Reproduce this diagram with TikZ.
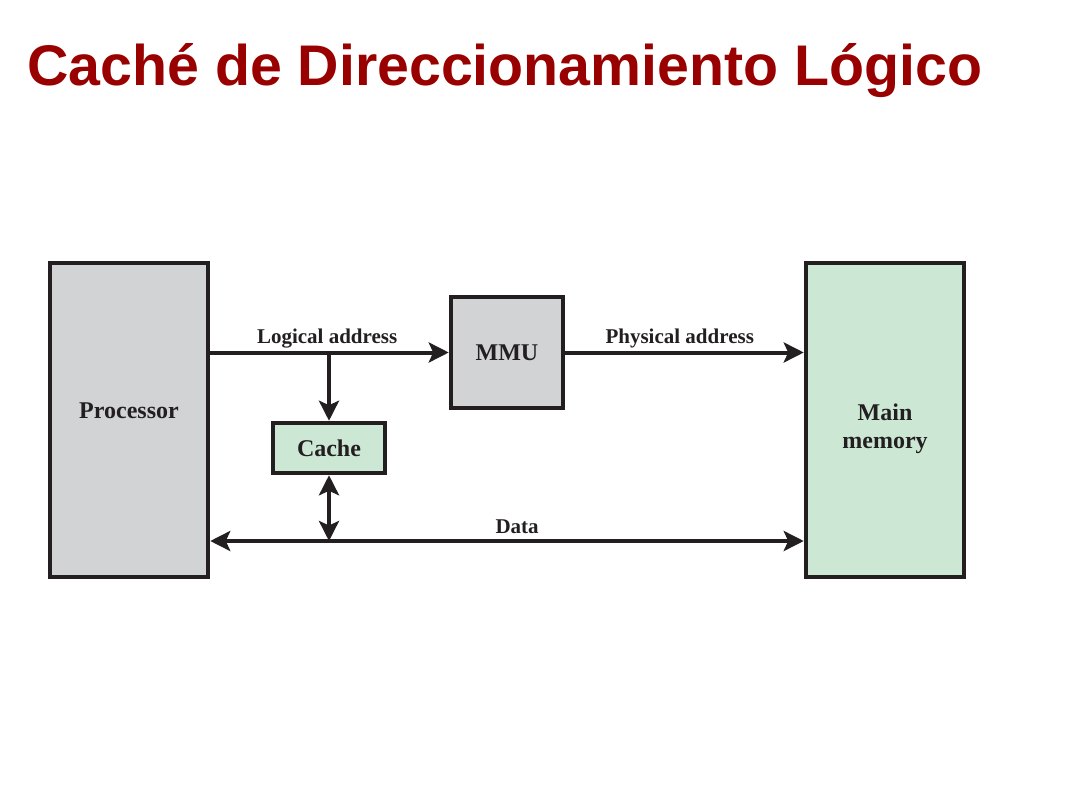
\documentclass[tikz,border=0pt]{standalone}
\usepackage{fontspec}
\setmainfont{Liberation Serif}
\newfontfamily\titlefont{Liberation Sans}
\usetikzlibrary{arrows.meta}
\definecolor{ink}{HTML}{231F20}
\definecolor{titlered}{HTML}{990000}
\definecolor{boxgray}{HTML}{D2D3D5}
\definecolor{boxgreen}{HTML}{CCE8D5}
\tikzset{
  box/.style={draw=ink, line width=4.5pt, inner sep=0pt, font=\fontsize{24}{28}\selectfont\bfseries, text=ink},
  boxlabel/.style={font=\fontsize{24}{28.5}\selectfont\bfseries, text=ink, align=center, inner sep=0pt},
  tip/.tip={Stealth[length=20pt,width=20pt,inset=4.5pt]},
  conn/.style={draw=ink, line width=4pt, -tip},
  dconn/.style={draw=ink, line width=4pt, tip-tip},
  elabel/.style={font=\fontsize{21}{24}\selectfont\bfseries, text=ink, anchor=base, inner sep=0pt},
}
\begin{document}
\begin{tikzpicture}[x=1pt,y=-1pt]
\useasboundingbox (0,0) rectangle (1066,800);
% title
\node[anchor=base west, inner sep=0pt, text=titlered, font=\titlefont\fontsize{57.3}{60}\selectfont\bfseries] (title) at (27,85) {Caché de Direccionamiento Lógico};
% boxes
\node[box, fill=boxgray, minimum width=158pt, minimum height=314pt,
      label={[boxlabel, yshift=9pt]center:Processor}] (proc) at (129,420) {};
\node[box, fill=boxgreen, minimum width=158pt, minimum height=314pt,
      label={[boxlabel, yshift=-9pt]center:Main\\memory}] (mem) at (885,420) {};
\node[box, fill=boxgray, minimum width=112pt, minimum height=111pt] (mmu) at (507,352.5) {MMU};
\node[box, fill=boxgreen, minimum width=112pt, minimum height=50pt] (cache) at (329,448) {Cache};
% helper coordinates
\coordinate (branch) at (cache.north |- mmu.west);
\coordinate (pleft) at (proc.east |- 0,541);
\coordinate (mright) at (mem.west |- 0,541);
\coordinate (cjoin) at (cache.south |- pleft);
% connectors
\draw[conn] (proc.east |- mmu.west) -- node[elabel, pos=0.49, yshift=9pt] {Logical address} (mmu.west);
\draw[conn] (branch) -- (cache.north);
\draw[conn] (mmu.east) -- node[elabel, pos=0.48, yshift=9pt] {Physical address} (mem.west |- mmu.east);
\draw[dconn] (pleft) -- node[elabel, pos=0.517, yshift=8pt] {Data} (mright);
\draw[dconn] (cache.south) -- (cjoin);
\end{tikzpicture}
\end{document}
